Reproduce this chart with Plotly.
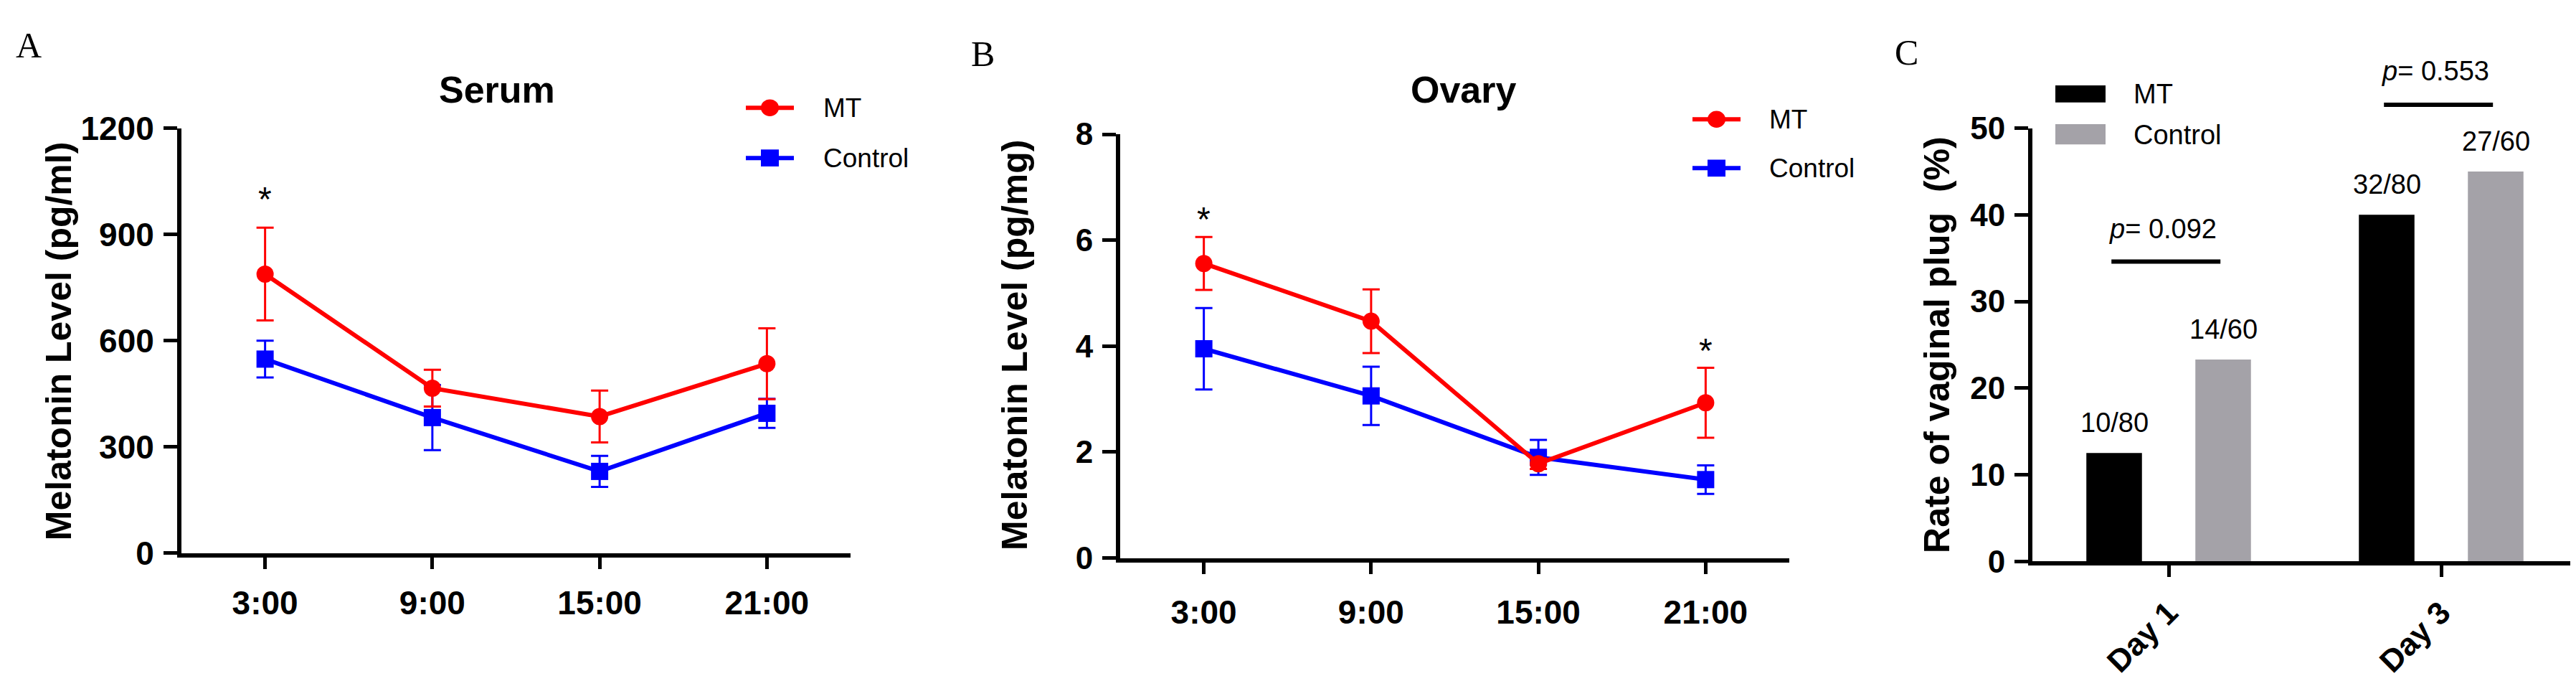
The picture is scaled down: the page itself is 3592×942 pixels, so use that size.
import plotly.graph_objects as go

W, H = 3592, 942

# ---------------- data ----------------
times = ["3:00", "9:00", "15:00", "21:00"]

serum_mt = [788, 466, 386, 535]
serum_mt_err = [131, 52, 73, 100]
serum_ctrl = [548, 383, 231, 395]
serum_ctrl_err = [52, 92, 44, 41]
serum_star_x = ["3:00"]
serum_star_y = [1000]

ovary_mt = [5.56, 4.47, 1.78, 2.93]
ovary_mt_err = [0.50, 0.60, 0.10, 0.66]
ovary_ctrl = [3.95, 3.06, 1.90, 1.48]
ovary_ctrl_err = [0.77, 0.55, 0.33, 0.27]
ovary_star_x = ["3:00", "21:00"]
ovary_star_y = [6.4, 3.92]

days = ["Day 1", "Day 3"]
plug_mt = [12.5, 40.0]
plug_ctrl = [23.3, 45.0]
plug_mt_lbl = ["10/80", "32/80"]
plug_ctrl_lbl = ["14/60", "27/60"]
pvals = ["0.092", "0.553"]
p_line_y = [34.6, 52.7]
p_text_y = [38.4, 56.6]

legend_names = ["MT", "Control"]

RED = "#FF0000"
BLUE = "#0000FF"
BLACK = "#000000"
GRAY = "#A4A2A8"
SANS = "Liberation Sans, Arial, sans-serif"
SERIF = "Liberation Serif, Times New Roman, serif"


def px(x):
    return x / W


def py(y):
    return 1 - y / H


fig = go.Figure()

LW = 6
MS = 24

# Panel A
fig.add_trace(go.Scatter(x=times, y=serum_ctrl, name="Control", mode="lines+markers",
                         line=dict(color=BLUE, width=LW),
                         marker=dict(symbol="square", size=MS, color=BLUE),
                         error_y=dict(type="data", array=serum_ctrl_err, color=BLUE, thickness=3, width=12),
                         xaxis="x", yaxis="y", showlegend=False))
fig.add_trace(go.Scatter(x=times, y=serum_mt, name="MT", mode="lines+markers",
                         line=dict(color=RED, width=LW),
                         marker=dict(symbol="circle", size=MS, color=RED),
                         error_y=dict(type="data", array=serum_mt_err, color=RED, thickness=3, width=12),
                         xaxis="x", yaxis="y", showlegend=False))

# Panel B
fig.add_trace(go.Scatter(x=times, y=ovary_ctrl, name="Control", mode="lines+markers",
                         line=dict(color=BLUE, width=LW),
                         marker=dict(symbol="square", size=MS, color=BLUE),
                         error_y=dict(type="data", array=ovary_ctrl_err, color=BLUE, thickness=3, width=12),
                         xaxis="x2", yaxis="y2", showlegend=False))
fig.add_trace(go.Scatter(x=times, y=ovary_mt, name="MT", mode="lines+markers",
                         line=dict(color=RED, width=LW),
                         marker=dict(symbol="circle", size=MS, color=RED),
                         error_y=dict(type="data", array=ovary_mt_err, color=RED, thickness=3, width=12),
                         xaxis="x2", yaxis="y2", showlegend=False))

# Panel C
fig.add_trace(go.Bar(x=days, y=plug_mt, name="MT", marker=dict(color=BLACK, line=dict(width=0)),
                     xaxis="x3", yaxis="y3", showlegend=False))
fig.add_trace(go.Bar(x=days, y=plug_ctrl, name="Control", marker=dict(color=GRAY, line=dict(width=0)),
                     xaxis="x3", yaxis="y3", showlegend=False))

ann = []
shapes = []


def text_ann(x, y, text, size, family=SANS, xref="paper", yref="paper", xanchor="center",
             yanchor="middle", **kw):
    d = dict(x=x, y=y, xref=xref, yref=yref, text=text, showarrow=False, xanchor=xanchor,
             yanchor=yanchor, font=dict(family=family, size=size, color="black"))
    d.update(kw)
    return d


# bar count labels (bar centres sit at category -/+ 0.2 with bargap 0.2)
for i, (lbl, v) in enumerate(zip(plug_mt_lbl, plug_mt)):
    ann.append(text_ann(i - 0.2, v, lbl, 38, xref="x3", yref="y3", yshift=42))
for i, (lbl, v) in enumerate(zip(plug_ctrl_lbl, plug_ctrl)):
    ann.append(text_ann(i + 0.2, v, lbl, 38, xref="x3", yref="y3", yshift=42))

# asterisks
for xv, yv in zip(serum_star_x, serum_star_y):
    ann.append(text_ann(xv, yv, "*", 48, xref="x", yref="y"))
for xv, yv in zip(ovary_star_x, ovary_star_y):
    ann.append(text_ann(xv, yv, "*", 48, xref="x2", yref="y2"))

# p-values
for i, (pv, ly, ty) in enumerate(zip(pvals, p_line_y, p_text_y)):
    shapes.append(dict(type="line", xref="x3", yref="y3 domain", x0=i - 0.21, x1=i + 0.19,
                       y0=ly / 50, y1=ly / 50, line=dict(color="black", width=6)))
    ann.append(text_ann(i - 0.02, ty / 50, "<i>p</i>= " + pv, 38, xref="x3", yref="y3 domain"))

# panel titles
ann.append(text_ann(px(685), py(96), "<b>Serum</b>", 52))
ann.append(text_ann(px(2033), py(96), "<b>Ovary</b>", 52))
# panel letters
for L, xx, yy in [("A", 32, 31), ("B", 1362, 43), ("C", 2650, 41)]:
    ann.append(text_ann(px(xx), py(yy), L, 50, family=SERIF))
# y titles
for T, xx, yy in [("Melatonin Level (pg/ml)", 74, 467), ("Melatonin Level (pg/mg)", 1407, 473),
                  ("Rate of vaginal plug\u00a0\u00a0(%)", 2693, 473)]:
    ann.append(text_ann(px(xx), py(yy), "<b>" + T + "</b>", 50, textangle=-90))

# legends for panels A and B (line + marker symbols)
for lx0, ys, tx in [(1032, (123, 197), 1138), (2352, (140, 212), 2457)]:
    lx1 = lx0 + 67
    cx = (lx0 + lx1) / 2
    for nm, yy, col in zip(legend_names, ys, [RED, BLUE]):
        shapes.append(dict(type="line", xref="paper", yref="paper", x0=px(lx0), x1=px(lx1),
                           y0=py(yy), y1=py(yy), line=dict(color=col, width=LW)))
        r = 12.5
        shapes.append(dict(type="circle" if nm == "MT" else "rect", xref="paper", yref="paper",
                           x0=px(cx - r), x1=px(cx + r), y0=py(yy + r), y1=py(yy - r),
                           fillcolor=col, line=dict(width=0)))
        ann.append(text_ann(px(tx), py(yy), nm, 37, xanchor="left"))

# legend for panel C
for col, y0, y1, nm, ty in [(BLACK, 90, 115, "MT", 103), (GRAY, 147, 177, "Control", 163)]:
    shapes.append(dict(type="rect", xref="paper", yref="paper", x0=px(2858), x1=px(2928),
                       y0=py(y1), y1=py(y0), fillcolor=col, line=dict(width=0)))
    ann.append(text_ann(px(2965), py(ty), nm, 38, xanchor="left"))

axis_common = dict(showline=True, linecolor="black", linewidth=6, showgrid=False, zeroline=False,
                   ticks="outside", tickcolor="black", tickwidth=5)

fig.update_layout(
    width=W, height=H, margin=dict(l=0, r=0, t=0, b=0),
    paper_bgcolor="white", plot_bgcolor="white",
    showlegend=False,
    barmode="group", bargap=0.2, bargroupgap=0.49,
    xaxis=dict(domain=[px(245), px(1178)], anchor="y", range=[-0.5, 3.5], ticklen=16,
               tickfont=dict(family=SANS, size=46, color="black", weight="bold"),
               ticklabelstandoff=8, **axis_common),
    yaxis=dict(domain=[py(780), py(153)], anchor="x", range=[0, 1200], tickvals=[0, 300, 600, 900, 1200],
               ticklen=19, tickfont=dict(family=SANS, size=46, color="black", weight="bold"),
               ticklabelstandoff=4, **axis_common),
    xaxis2=dict(domain=[px(1554), px(2487)], anchor="y2", range=[-0.5, 3.5], ticklen=16,
                tickfont=dict(family=SANS, size=46, color="black", weight="bold"),
                ticklabelstandoff=14, **axis_common),
    yaxis2=dict(domain=[py(787), py(162)], anchor="x2", range=[0, 8], tickvals=[0, 2, 4, 6, 8],
                ticklen=19, tickfont=dict(family=SANS, size=44, color="black", weight="bold"),
                ticklabelstandoff=4, **axis_common),
    xaxis3=dict(domain=[px(2826), px(3586)], anchor="y3", range=[-0.5, 1.5], ticklen=16, tickangle=-45,
                tickfont=dict(family=SANS, size=44, color="black", weight="bold"),
                ticklabelstandoff=6, **axis_common),
    yaxis3=dict(domain=[py(792), py(153)], anchor="x3", range=[0, 50], tickvals=[0, 10, 20, 30, 40, 50],
                ticklen=19, tickfont=dict(family=SANS, size=44, color="black", weight="bold"),
                ticklabelstandoff=4, **axis_common),
    annotations=ann,
    shapes=shapes,
)

fig.write_html("out.html")
